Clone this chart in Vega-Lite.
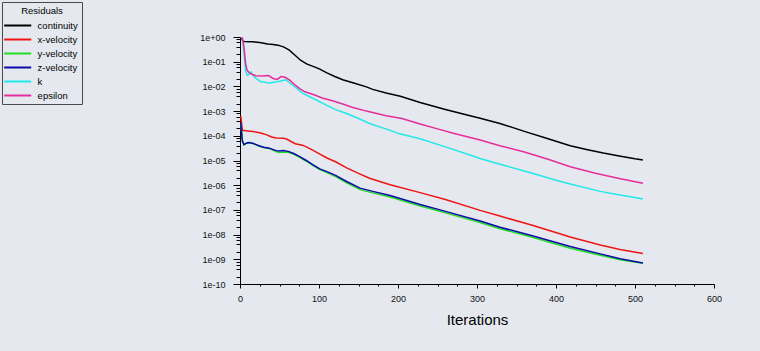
{
  "$schema": "https://vega.github.io/schema/vega-lite/v6.json",
  "autosize": {"type": "none"},
  "padding": {"left": 240, "top": 37, "right": 46, "bottom": 67},
  "width": 474,
  "height": 247,
  "background": "#e5e9ef",
  "config": {
    "view": {"stroke": null},
    "font": "Liberation Sans",
    "axis": {"grid": false, "domainColor": "#000000", "tickColor": "#000000", "labelColor": "#111111", "labelFont": "Liberation Sans", "titleFont": "Liberation Sans", "titleFontWeight": "normal", "titleColor": "#000000"}
  },
  "data": {
    "values": [
      {"it": 1, "series": "continuity", "r": 1},
      {"it": 3, "series": "continuity", "r": 0.759},
      {"it": 5, "series": "continuity", "r": 0.661},
      {"it": 15, "series": "continuity", "r": 0.646},
      {"it": 25, "series": "continuity", "r": 0.603},
      {"it": 35, "series": "continuity", "r": 0.525},
      {"it": 42, "series": "continuity", "r": 0.501},
      {"it": 48, "series": "continuity", "r": 0.468},
      {"it": 55, "series": "continuity", "r": 0.398},
      {"it": 62, "series": "continuity", "r": 0.302},
      {"it": 70, "series": "continuity", "r": 0.178},
      {"it": 77, "series": "continuity", "r": 0.112},
      {"it": 85, "series": "continuity", "r": 0.0794},
      {"it": 95, "series": "continuity", "r": 0.0603},
      {"it": 101, "series": "continuity", "r": 0.0501},
      {"it": 110, "series": "continuity", "r": 0.0355},
      {"it": 120, "series": "continuity", "r": 0.0251},
      {"it": 130, "series": "continuity", "r": 0.0186},
      {"it": 145, "series": "continuity", "r": 0.0135},
      {"it": 160, "series": "continuity", "r": 0.00955},
      {"it": 168, "series": "continuity", "r": 0.00759},
      {"it": 185, "series": "continuity", "r": 0.00537},
      {"it": 203, "series": "continuity", "r": 0.00398},
      {"it": 228, "series": "continuity", "r": 0.00224},
      {"it": 260, "series": "continuity", "r": 0.00117},
      {"it": 290, "series": "continuity", "r": 0.000661},
      {"it": 304, "series": "continuity", "r": 0.000513},
      {"it": 329, "series": "continuity", "r": 0.000316},
      {"it": 360, "series": "continuity", "r": 0.000151},
      {"it": 390, "series": "continuity", "r": 7.59e-5},
      {"it": 418, "series": "continuity", "r": 3.98e-5},
      {"it": 440, "series": "continuity", "r": 2.75e-5},
      {"it": 460, "series": "continuity", "r": 2.0e-5},
      {"it": 480, "series": "continuity", "r": 1.51e-5},
      {"it": 500, "series": "continuity", "r": 1.17e-5},
      {"it": 510, "series": "continuity", "r": 1.05e-5},

      {"it": 1, "series": "x-velocity", "r": 6.17e-4},
      {"it": 3, "series": "x-velocity", "r": 1.66e-4},
      {"it": 10, "series": "x-velocity", "r": 1.58e-4},
      {"it": 16, "series": "x-velocity", "r": 1.51e-4},
      {"it": 25, "series": "x-velocity", "r": 1.32e-4},
      {"it": 33, "series": "x-velocity", "r": 1.12e-4},
      {"it": 40, "series": "x-velocity", "r": 8.91e-5},
      {"it": 46, "series": "x-velocity", "r": 8.13e-5},
      {"it": 55, "series": "x-velocity", "r": 7.94e-5},
      {"it": 59, "series": "x-velocity", "r": 7.41e-5},
      {"it": 64, "series": "x-velocity", "r": 6.03e-5},
      {"it": 70, "series": "x-velocity", "r": 4.79e-5},
      {"it": 79, "series": "x-velocity", "r": 4.17e-5},
      {"it": 84, "series": "x-velocity", "r": 3.55e-5},
      {"it": 92, "series": "x-velocity", "r": 2.63e-5},
      {"it": 100, "series": "x-velocity", "r": 1.91e-5},
      {"it": 110, "series": "x-velocity", "r": 1.26e-5},
      {"it": 121, "series": "x-velocity", "r": 8.91e-6},
      {"it": 135, "series": "x-velocity", "r": 5.01e-6},
      {"it": 150, "series": "x-velocity", "r": 3.02e-6},
      {"it": 164, "series": "x-velocity", "r": 1.91e-6},
      {"it": 190, "series": "x-velocity", "r": 1.05e-6},
      {"it": 228, "series": "x-velocity", "r": 5.01e-7},
      {"it": 260, "series": "x-velocity", "r": 2.63e-7},
      {"it": 304, "series": "x-velocity", "r": 9.55e-8},
      {"it": 329, "series": "x-velocity", "r": 5.62e-8},
      {"it": 370, "series": "x-velocity", "r": 2.40e-8},
      {"it": 418, "series": "x-velocity", "r": 7.94e-9},
      {"it": 456, "series": "x-velocity", "r": 3.80e-9},
      {"it": 481, "series": "x-velocity", "r": 2.51e-9},
      {"it": 510, "series": "x-velocity", "r": 1.70e-9},

      {"it": 1, "series": "y-velocity", "r": 3.16e-4},
      {"it": 3, "series": "y-velocity", "r": 6.03e-5},
      {"it": 5, "series": "y-velocity", "r": 4.27e-5},
      {"it": 8, "series": "y-velocity", "r": 4.90e-5},
      {"it": 11, "series": "y-velocity", "r": 5.25e-5},
      {"it": 16, "series": "y-velocity", "r": 4.90e-5},
      {"it": 24, "series": "y-velocity", "r": 3.89e-5},
      {"it": 30, "series": "y-velocity", "r": 3.39e-5},
      {"it": 37, "series": "y-velocity", "r": 3.09e-5},
      {"it": 44, "series": "y-velocity", "r": 2.40e-5},
      {"it": 49, "series": "y-velocity", "r": 2.09e-5},
      {"it": 55, "series": "y-velocity", "r": 2.19e-5},
      {"it": 62, "series": "y-velocity", "r": 2.09e-5},
      {"it": 68, "series": "y-velocity", "r": 1.78e-5},
      {"it": 75, "series": "y-velocity", "r": 1.38e-5},
      {"it": 84, "series": "y-velocity", "r": 9.33e-6},
      {"it": 92, "series": "y-velocity", "r": 6.31e-6},
      {"it": 101, "series": "y-velocity", "r": 4.27e-6},
      {"it": 110, "series": "y-velocity", "r": 3.24e-6},
      {"it": 121, "series": "y-velocity", "r": 2.24e-6},
      {"it": 135, "series": "y-velocity", "r": 1.26e-6},
      {"it": 152, "series": "y-velocity", "r": 6.61e-7},
      {"it": 168, "series": "y-velocity", "r": 4.90e-7},
      {"it": 190, "series": "y-velocity", "r": 3.31e-7},
      {"it": 228, "series": "y-velocity", "r": 1.45e-7},
      {"it": 260, "series": "y-velocity", "r": 7.59e-8},
      {"it": 304, "series": "y-velocity", "r": 3.09e-8},
      {"it": 329, "series": "y-velocity", "r": 1.74e-8},
      {"it": 370, "series": "y-velocity", "r": 7.76e-9},
      {"it": 418, "series": "y-velocity", "r": 2.82e-9},
      {"it": 456, "series": "y-velocity", "r": 1.45e-9},
      {"it": 481, "series": "y-velocity", "r": 9.55e-10},
      {"it": 510, "series": "y-velocity", "r": 6.92e-10},

      {"it": 1, "series": "z-velocity", "r": 3.31e-4},
      {"it": 3, "series": "z-velocity", "r": 6.31e-5},
      {"it": 5, "series": "z-velocity", "r": 4.37e-5},
      {"it": 8, "series": "z-velocity", "r": 5.01e-5},
      {"it": 11, "series": "z-velocity", "r": 5.37e-5},
      {"it": 16, "series": "z-velocity", "r": 5.01e-5},
      {"it": 24, "series": "z-velocity", "r": 3.98e-5},
      {"it": 30, "series": "z-velocity", "r": 3.47e-5},
      {"it": 37, "series": "z-velocity", "r": 3.16e-5},
      {"it": 44, "series": "z-velocity", "r": 2.63e-5},
      {"it": 49, "series": "z-velocity", "r": 2.40e-5},
      {"it": 55, "series": "z-velocity", "r": 2.51e-5},
      {"it": 62, "series": "z-velocity", "r": 2.29e-5},
      {"it": 68, "series": "z-velocity", "r": 1.91e-5},
      {"it": 75, "series": "z-velocity", "r": 1.48e-5},
      {"it": 84, "series": "z-velocity", "r": 1.0e-5},
      {"it": 92, "series": "z-velocity", "r": 6.76e-6},
      {"it": 101, "series": "z-velocity", "r": 4.57e-6},
      {"it": 110, "series": "z-velocity", "r": 3.55e-6},
      {"it": 121, "series": "z-velocity", "r": 2.51e-6},
      {"it": 135, "series": "z-velocity", "r": 1.41e-6},
      {"it": 152, "series": "z-velocity", "r": 7.59e-7},
      {"it": 168, "series": "z-velocity", "r": 5.62e-7},
      {"it": 190, "series": "z-velocity", "r": 3.80e-7},
      {"it": 228, "series": "z-velocity", "r": 1.66e-7},
      {"it": 260, "series": "z-velocity", "r": 8.71e-8},
      {"it": 304, "series": "z-velocity", "r": 3.55e-8},
      {"it": 329, "series": "z-velocity", "r": 2.0e-8},
      {"it": 370, "series": "z-velocity", "r": 8.91e-9},
      {"it": 418, "series": "z-velocity", "r": 3.31e-9},
      {"it": 456, "series": "z-velocity", "r": 1.66e-9},
      {"it": 481, "series": "z-velocity", "r": 1.05e-9},
      {"it": 510, "series": "z-velocity", "r": 7.08e-10},

      {"it": 1, "series": "k", "r": 1},
      {"it": 3, "series": "k", "r": 0.891},
      {"it": 5, "series": "k", "r": 0.251},
      {"it": 7, "series": "k", "r": 0.0447},
      {"it": 9, "series": "k", "r": 0.0282},
      {"it": 12, "series": "k", "r": 0.0316},
      {"it": 14, "series": "k", "r": 0.0380},
      {"it": 18, "series": "k", "r": 0.0240},
      {"it": 26, "series": "k", "r": 0.0158},
      {"it": 37, "series": "k", "r": 0.0138},
      {"it": 49, "series": "k", "r": 0.0158},
      {"it": 58, "series": "k", "r": 0.0186},
      {"it": 66, "series": "k", "r": 0.0117},
      {"it": 79, "series": "k", "r": 0.00537},
      {"it": 96, "series": "k", "r": 0.00288},
      {"it": 108, "series": "k", "r": 0.00182},
      {"it": 121, "series": "k", "r": 0.00115},
      {"it": 135, "series": "k", "r": 0.000794},
      {"it": 150, "series": "k", "r": 0.000501},
      {"it": 164, "series": "k", "r": 0.000316},
      {"it": 190, "series": "k", "r": 0.000166},
      {"it": 202, "series": "k", "r": 0.000120},
      {"it": 228, "series": "k", "r": 7.59e-5},
      {"it": 260, "series": "k", "r": 3.55e-5},
      {"it": 291, "series": "k", "r": 1.66e-5},
      {"it": 304, "series": "k", "r": 1.20e-5},
      {"it": 329, "series": "k", "r": 7.08e-6},
      {"it": 370, "series": "k", "r": 3.02e-6},
      {"it": 400, "series": "k", "r": 1.58e-6},
      {"it": 418, "series": "k", "r": 1.12e-6},
      {"it": 456, "series": "k", "r": 5.62e-7},
      {"it": 481, "series": "k", "r": 3.98e-7},
      {"it": 500, "series": "k", "r": 3.16e-7},
      {"it": 510, "series": "k", "r": 2.75e-7},

      {"it": 1, "series": "epsilon", "r": 1},
      {"it": 3, "series": "epsilon", "r": 0.891},
      {"it": 5, "series": "epsilon", "r": 0.398},
      {"it": 7, "series": "epsilon", "r": 0.0891},
      {"it": 9, "series": "epsilon", "r": 0.0447},
      {"it": 12, "series": "epsilon", "r": 0.0355},
      {"it": 16, "series": "epsilon", "r": 0.0302},
      {"it": 20, "series": "epsilon", "r": 0.0269},
      {"it": 28, "series": "epsilon", "r": 0.0263},
      {"it": 36, "series": "epsilon", "r": 0.0275},
      {"it": 42, "series": "epsilon", "r": 0.0209},
      {"it": 47, "series": "epsilon", "r": 0.0191},
      {"it": 52, "series": "epsilon", "r": 0.0251},
      {"it": 57, "series": "epsilon", "r": 0.0234},
      {"it": 63, "series": "epsilon", "r": 0.0178},
      {"it": 70, "series": "epsilon", "r": 0.0112},
      {"it": 76, "series": "epsilon", "r": 0.00794},
      {"it": 82, "series": "epsilon", "r": 0.00603},
      {"it": 90, "series": "epsilon", "r": 0.00501},
      {"it": 97, "series": "epsilon", "r": 0.00417},
      {"it": 104, "series": "epsilon", "r": 0.00339},
      {"it": 117, "series": "epsilon", "r": 0.00263},
      {"it": 130, "series": "epsilon", "r": 0.00195},
      {"it": 143, "series": "epsilon", "r": 0.00141},
      {"it": 160, "series": "epsilon", "r": 0.001},
      {"it": 185, "series": "epsilon", "r": 0.000646},
      {"it": 205, "series": "epsilon", "r": 0.000501},
      {"it": 228, "series": "epsilon", "r": 0.000302},
      {"it": 250, "series": "epsilon", "r": 0.000191},
      {"it": 270, "series": "epsilon", "r": 0.000126},
      {"it": 304, "series": "epsilon", "r": 6.76e-5},
      {"it": 329, "series": "epsilon", "r": 3.98e-5},
      {"it": 360, "series": "epsilon", "r": 2.19e-5},
      {"it": 390, "series": "epsilon", "r": 1.12e-5},
      {"it": 418, "series": "epsilon", "r": 5.62e-6},
      {"it": 450, "series": "epsilon", "r": 3.02e-6},
      {"it": 480, "series": "epsilon", "r": 1.86e-6},
      {"it": 510, "series": "epsilon", "r": 1.20e-6}
    ]
  },
  "mark": {"type": "line", "strokeWidth": 1.5, "clip": true},
  "encoding": {
    "x": {
      "field": "it", "type": "quantitative",
      "scale": {"domain": [0, 600], "nice": false, "zero": false},
      "axis": {
        "title": "Iterations", "titleFontSize": 15, "titlePadding": 9,
        "values": [0,25,50,75,100,125,150,175,200,225,250,275,300,325,350,375,400,425,450,475,500,525,550,575,600],
        "labelExpr": "datum.value % 100 === 0 ? datum.label : ''",
        "labelFontSize": 9, "labelPadding": 6, "labelFlush": false, "labelOverlap": false,
        "tickSize": {"condition": {"test": "datum.value % 100 === 0", "value": 4}, "value": 2}
      }
    },
    "y": {
      "field": "r", "type": "quantitative",
      "scale": {"type": "log", "domain": [1e-10, 1], "nice": false},
      "axis": {
        "title": null,
        "values": [1,0.8,0.6,0.4,0.2,0.1,0.08,0.06,0.04,0.02,0.01,0.008,0.006,0.004,0.002,0.001,8e-4,6e-4,4e-4,2e-4,1e-4,8e-5,6e-5,4e-5,2e-5,1e-5,8e-6,6e-6,4e-6,2e-6,1e-6,8e-7,6e-7,4e-7,2e-7,1e-7,8e-8,6e-8,4e-8,2e-8,1e-8,8e-9,6e-9,4e-9,2e-9,1e-9,8e-10,6e-10,4e-10,2e-10,1e-10],
        "labelExpr": "abs(log(datum.value)/LN10 - round(log(datum.value)/LN10)) < 0.001 ? ('1e' + (round(log(datum.value)/LN10) >= 0 ? '+' : '-') + (abs(round(log(datum.value)/LN10)) < 10 ? '0' : '') + abs(round(log(datum.value)/LN10))) : ''",
        "labelFontSize": 9, "labelPadding": 8, "labelOverlap": false, "labelFlush": false,
        "tickSize": {"condition": {"test": "abs(log(datum.value)/LN10 - round(log(datum.value)/LN10)) < 0.001", "value": 7}, "value": 4}
      }
    },
    "color": {
      "field": "series", "type": "nominal",
      "scale": {
        "domain": ["continuity", "x-velocity", "y-velocity", "z-velocity", "k", "epsilon"],
        "range": ["#000000", "#ee1414", "#22dd22", "#0a0aa8", "#22e8e8", "#e62d9c"]
      },
      "legend": {
        "orient": "none", "legendX": -238, "legendY": -35,
        "title": "Residuals", "titleAnchor": "middle", "titleFontSize": 9.5, "titleFontWeight": "normal", "titleFont": "Liberation Sans", "titleColor": "#000000", "titlePadding": 0.5,
        "labelFont": "Liberation Sans", "labelFontSize": 9.5, "labelColor": "#000000",
        "symbolType": "M-1.63,0H1.63", "symbolSize": 276, "symbolStrokeWidth": 2, "symbolOffset": 2.2,
        "strokeColor": "#4a4a4a", "padding": 4, "rowPadding": 0, "labelOffset": 10.4
      }
    }
  }
}
